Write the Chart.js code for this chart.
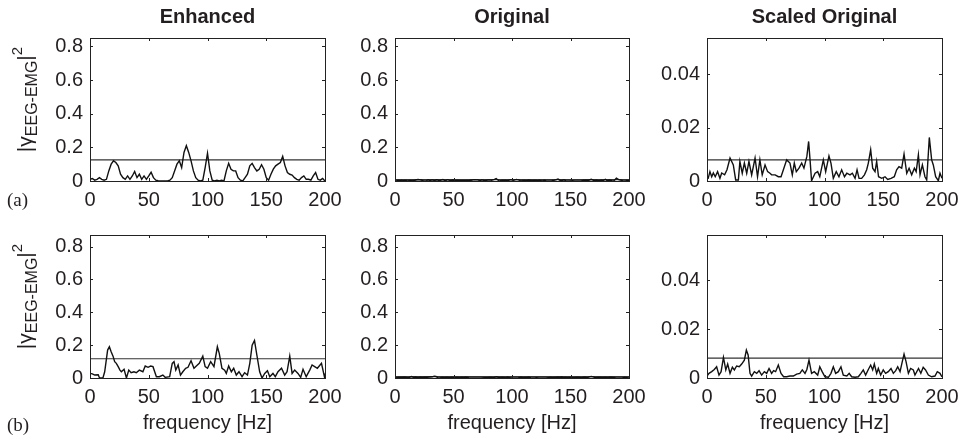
<!DOCTYPE html>
<html>
<head>
<meta charset="utf-8">
<title>EEG-EMG coherence</title>
<script src="https://cdn.jsdelivr.net/npm/chart.js@4.4.0/dist/chart.umd.min.js"></script>
<style>
  html, body { margin: 0; padding: 0; background: #fff; }
  #wrap { position: relative; width: 960px; height: 437px; overflow: hidden; }
  #wrap canvas { position: absolute; }
  .tag { position: absolute; font: 19px 'Liberation Serif', 'Times New Roman', serif; color: #231f20; line-height: 20px; }
</style>
</head>
<body>
<div id="wrap">
  <canvas id="chartA1" width="350" height="215" style="left:0;top:0"></canvas>
  <canvas id="chartA2" width="320" height="215" style="left:330px;top:0"></canvas>
  <canvas id="chartA3" width="315" height="215" style="left:645px;top:0"></canvas>
  <canvas id="chartB1" width="350" height="222" style="left:0;top:215px"></canvas>
  <canvas id="chartB2" width="320" height="222" style="left:330px;top:215px"></canvas>
  <canvas id="chartB3" width="315" height="222" style="left:645px;top:215px"></canvas>
  <div class="tag" style="left:7px;top:190px">(a)</div>
  <div class="tag" style="left:7px;top:415px">(b)</div>
</div>
<script>
// (a) enhanced coherence, read on a 2 Hz grid
var enhancedAHz = [0, 2, 4, 6, 8, 10, 12, 14, 16, 18, 20, 22, 24, 26, 28, 30, 32, 34, 36, 38, 40,
  42, 44, 46, 48, 50, 52, 54, 56, 58, 60, 62, 64, 66, 68, 70, 72, 74, 76, 78, 80,
  82, 84, 86, 88, 90, 92, 94, 96, 98, 100, 102, 104, 106, 108, 110, 112, 114, 116, 118, 120,
  122, 124, 126, 128, 130, 132, 134, 136, 138, 140, 142, 144, 146, 148, 150, 152, 154, 156, 158, 160,
  162, 164, 166, 168, 170, 172, 174, 176, 178, 180, 182, 184, 186, 188, 190, 192, 194, 196, 198, 200];
var enhancedA = [0.01, 0.015, 0.005, 0.01, 0.02, 0.01, 0.005, 0.01, 0.06, 0.10, 0.12,
  0.11, 0.09, 0.04, 0.02, 0.01, 0.03, 0.01, 0.03, 0.057, 0.02,
  0.04, 0.01, 0.03, 0.01, 0.03, 0.052, 0.02, 0.005, 0.002, 0,
  0, 0, 0, 0.005, 0.02, 0.06, 0.10, 0.12, 0.08, 0.17,
  0.21, 0.17, 0.12, 0.06, 0.02, 0.005, 0, 0.005, 0.08, 0.165,
  0.06, 0.005, 0, 0.005, 0, 0.005, 0, 0.06, 0.105, 0.07,
  0.06, 0.06, 0.02, 0.005, 0, 0.02, 0.04, 0.09, 0.105, 0.08,
  0.06, 0.07, 0.097, 0.07, 0.02, 0.005, 0.04, 0.07, 0.09, 0.10,
  0.11, 0.147, 0.09, 0.05, 0.04, 0.035, 0.02, 0.01, 0.005, 0.02,
  0.03, 0.01, 0.01, 0.005, 0.03, 0.05, 0.01, 0.005, 0.015, 0];

// (a) original coherence (same data in "Original" and "Scaled Original")
var originalAHz = [0, 1, 2.5, 4, 5.4, 7, 9, 11, 12.5, 15, 17, 19.6, 22.4, 24.4, 26.7, 28, 30, 31.8, 33.8, 35.7,
  38, 40.9, 43, 45, 47, 49.4, 51.6, 53.6, 55, 58, 60.7, 63, 65, 67.8, 70.6, 72.6, 74.3, 76, 78.3, 80.6,
  82.5, 85, 86.5, 87.7, 89, 92, 94.2, 96, 99, 101, 103.8, 105.5, 107.5, 110, 112.3, 114.6, 117, 119, 121.7, 123.7,
  126, 127.7, 129.4, 131.6, 134, 135.9, 137.3, 139.3, 141, 143, 144.4, 146, 148.7, 151.5, 153.8, 156.6, 159.4, 161.4, 163.4, 165.7,
  167.7, 170, 172, 174.2, 176.5, 178, 179.9, 181.3, 183.3, 185.5, 187, 189.2, 191.2, 192.6, 194.6, 196.9, 198.3, 200];
var originalA = [0.001, 0.001, 0.0035, 0.0016, 0.003, 0.0016, 0.0035, 0.001, 0.003, 0.0023, 0.0042, 0.0086, 0.006, 0.0004, 0.0004, 0.0073, 0.0029, 0.0067, 0.0029, 0.0073,
  0.0023, 0.0086, 0.0016, 0.0079, 0.0023, 0.006, 0.0035, 0.0029, 0.0023, 0.0023, 0.0016, 0.0016, 0.0042, 0.0079, 0.0067, 0.0023, 0.0067, 0.0035, 0.0048, 0.0067,
  0.0048, 0.0092, 0.0148, 0.0079, 0.0001, 0.0029, 0.0035, 0.0016, 0.0079, 0.0035, 0.0094, 0.0067, 0.001, 0.0035, 0.0016, 0.0042, 0.0016, 0.0029, 0.0023, 0.0029,
  0.001, 0.0042, 0.001, 0.001, 0.0023, 0.0042, 0.0067, 0.0117, 0.0048, 0.0035, 0.0073, 0.0016, 0.001, 0.0016, 0.0006, 0.001, 0.0016, 0.0042, 0.0054, 0.0048,
  0.0101, 0.0029, 0.0048, 0.0023, 0.0048, 0.0035, 0.0098, 0.0023, 0.006, 0.0016, 0.0004, 0.0163, 0.0079, 0.006, 0.0016, 0.0001, 0.0029, 0.001];

// (b) enhanced coherence
var enhancedBHz = [0, 2, 4, 7, 8, 11, 12.5, 15, 16.5, 18, 19.6, 21, 22.4, 24, 25.5, 26.7, 29, 31, 33, 35,
  37.4, 39.4, 42, 45, 47, 49.4, 51.6, 53.6, 56.5, 59, 62, 64, 67.8, 70, 71.5, 73, 75, 77, 79, 81.4,
  83.4, 86, 88.5, 90.5, 93, 96, 98, 100, 102.7, 105.5, 108.4, 110, 112.3, 114.6, 116, 118, 120.3, 122.3, 124.5, 126.8,
  129.4, 131.6, 134, 136, 138, 140, 142, 144.4, 146.4, 148.7, 151, 153, 155.7, 157.7, 160, 163, 165.7, 167.7, 170, 172,
  174.2, 177, 179.3, 181.3, 184, 187, 189, 191.2, 193.5, 197, 199.5, 200];
var enhancedB = [0.028, 0.025, 0.018, 0.02, 0.002, 0, 0.038, 0.17, 0.19, 0.16, 0.133, 0.099, 0.089, 0.069, 0.048, 0.038, 0.053, 0, 0.048, 0.032,
  0.038, 0.032, 0.048, 0.038, 0.073, 0.065, 0.073, 0.069, 0.008, 0.008, 0.018, 0.004, 0.008, 0.089, 0.099, 0.048, 0.079, 0.018, 0.038, 0.059,
  0.065, 0.105, 0.059, 0.073, 0.089, 0.133, 0.069, 0.059, 0.099, 0.069, 0.19, 0.15, 0.059, 0.048, 0.028, 0.073, 0.038, 0.059, 0.018, 0.038,
  0.008, 0.032, 0.018, 0.089, 0.2, 0.228, 0.14, 0.038, 0, 0.028, 0.044, 0.008, 0.028, 0.008, 0.038, 0.059, 0.018, 0.038, 0.133, 0.028,
  0.048, 0.028, 0.004, 0.053, 0.008, 0.048, 0.079, 0.069, 0.059, 0.089, 0.008, 0.028];

// (b) original coherence
var originalBHz = [0, 1.7, 4, 6.2, 8.2, 10.2, 12, 14, 16, 17.6, 19.6, 21.6, 23.3, 25.2, 27.5, 29.5, 31.8, 33.5, 35, 36.6,
  38, 40.3, 42.3, 44.3, 46.5, 48.8, 50.8, 52.8, 55, 56.7, 58.4, 60.7, 63, 65.2, 67.8, 70.6, 73.5, 76.3, 79, 81.1,
  83.4, 85, 86.8, 89, 91.3, 94.2, 96, 98, 100.4, 103.3, 105.5, 107.5, 109.5, 111.8, 114, 116, 119, 121, 123.1, 126,
  128.8, 131, 133, 135, 137.3, 139.3, 141, 142.4, 144.4, 145.8, 147.8, 150, 152, 154.3, 156.6, 158.6, 160.6, 162.3, 164.3, 166.2,
  167.7, 169.4, 171.4, 173.3, 175.6, 177, 180, 182, 184, 186, 188.4, 191.2, 194, 196, 198.3, 200];
var originalB = [0.0008, 0.0019, 0.0026, 0.0035, 0.0046, 0.0012, 0.0026, 0.0084, 0.0033, 0.0057, 0.0019, 0.0044, 0.0033, 0.0049, 0.0046, 0.0057, 0.0073, 0.0114, 0.0094, 0.0019,
  0.0008, 0.0026, 0.0019, 0.003, 0.0012, 0.0026, 0.0019, 0.0039, 0.0019, 0.003, 0.0026, 0.0053, 0.0019, 0.0005, 0.0005, 0.0008, 0.0008, 0.0016, 0.0019, 0.0033,
  0.0019, 0.0035, 0.0073, 0.0019, 0.0026, 0.0012, 0.0046, 0.0026, 0.0005, 0.0003, 0.0019, 0.0046, 0.0019, 0.0026, 0.0046, 0.0012, 0.0008, 0.0019, 0.0005, 0.0003,
  0.0005, 0.0019, 0.0033, 0.0012, 0.0035, 0.0053, 0.0033, 0.0057, 0.0019, 0.0039, 0.0012, 0.0033, 0.0019, 0.0026, 0.0039, 0.0019, 0.003, 0.0046, 0.0026, 0.0067,
  0.0098, 0.0067, 0.0019, 0.0039, 0.0033, 0.0012, 0.0039, 0.0019, 0.0044, 0.0033, 0.0012, 0.0005, 0.0008, 0.0026, 0.0019, 0.0005];

// significance levels
var enhancedALimit = 0.125;
var enhancedBLimit = 0.117;
var originalALimit = 0.0079;
var originalBLimit = 0.0081;

var columnTitles = ['Enhanced', 'Original', 'Scaled Original'];
var xTicks = [0, 50, 100, 150, 200];

var textColor = '#231f20';
var lineColor = '#111';
var sans = "'Liberation Sans', Arial, Helvetica, sans-serif";

function toPoints(hz, values) {
  return hz.map(function (f, i) { return { x: f, y: values[i] }; });
}

function limitLine(level) {
  return [{ x: xTicks[0], y: level }, { x: xTicks[xTicks.length - 1], y: level }];
}

// MATLAB style box with inward ticks on all four sides, plus the column title
var boxPlugin = {
  id: 'matlabBox',
  afterDatasetsDraw: function (chart, args, opts) {
    var ctx = chart.ctx;
    var a = chart.chartArea;
    var xs = chart.scales.x;
    var ys = chart.scales.y;
    var len = 3;
    ctx.save();
    ctx.strokeStyle = '#222';
    ctx.lineWidth = 1;
    ctx.strokeRect(Math.round(a.left) + 0.5, Math.round(a.top) + 0.5,
      Math.round(a.right - a.left), Math.round(a.bottom - a.top));
    ctx.beginPath();
    xs.ticks.forEach(function (t) {
      var px = Math.round(xs.getPixelForValue(t.value)) + 0.5;
      ctx.moveTo(px, a.bottom); ctx.lineTo(px, a.bottom - len);
      ctx.moveTo(px, a.top); ctx.lineTo(px, a.top + len);
    });
    ys.ticks.forEach(function (t) {
      var py = Math.round(ys.getPixelForValue(t.value)) + 0.5;
      ctx.moveTo(a.left, py); ctx.lineTo(a.left + len, py);
      ctx.moveTo(a.right, py); ctx.lineTo(a.right - len, py);
    });
    ctx.stroke();
    if (opts.title) {
      ctx.fillStyle = textColor;
      ctx.font = 'bold 20px ' + sans;
      ctx.textAlign = 'center';
      ctx.textBaseline = 'middle';
      ctx.fillText(opts.title, (a.left + a.right) / 2, a.top - 21);
    }
    ctx.restore();
  }
};

// rotated |gamma_EEG-EMG|^2 label
var yLabelPlugin = {
  id: 'coherenceLabel',
  afterDraw: function (chart, args, opts) {
    if (!opts.display) return;
    var ctx = chart.ctx;
    var a = chart.chartArea;
    var parts = [
      { t: '|\u03b3', size: 21, dy: 0 },
      { t: 'EEG-EMG', size: 16, dy: 5 },
      { t: '|', size: 21, dy: 0 },
      { t: '2', size: 15, dy: -10 }
    ];
    var total = 0;
    ctx.save();
    parts.forEach(function (p) {
      ctx.font = p.size + 'px ' + sans;
      p.w = ctx.measureText(p.t).width;
      total += p.w;
    });
    ctx.translate(opts.x, (a.top + a.bottom) / 2 + opts.shift);
    ctx.rotate(-Math.PI / 2);
    ctx.fillStyle = textColor;
    ctx.textBaseline = 'alphabetic';
    var cx = -total / 2;
    parts.forEach(function (p) {
      ctx.font = p.size + 'px ' + sans;
      ctx.fillText(p.t, cx, p.dy);
      cx += p.w;
    });
    ctx.restore();
  }
};

function makePanel(id, cfg) {
  var ctx = document.getElementById(id);
  return new Chart(ctx, {
    type: 'line',
    data: {
      datasets: [{
        data: toPoints(cfg.hz, cfg.values),
        borderColor: lineColor,
        borderWidth: 1.4,
        pointRadius: 0,
        tension: 0
      }, {
        data: limitLine(cfg.limit),
        borderColor: '#333',
        borderWidth: 1.2,
        pointRadius: 0
      }]
    },
    options: {
      responsive: false,
      animation: false,
      devicePixelRatio: 1,
      layout: { padding: { left: 0, right: cfg.padRight, top: cfg.padTop, bottom: 0 } },
      plugins: {
        legend: { display: false },
        tooltip: { enabled: false },
        title: { display: false },
        matlabBox: { title: cfg.title || '' },
        coherenceLabel: { display: !!cfg.yLabel, x: 32, shift: -10 }
      },
      scales: {
        x: {
          type: 'linear',
          min: 0,
          max: 200,
          afterBuildTicks: function (scale) {
            scale.ticks = xTicks.map(function (v) { return { value: v }; });
          },
          grid: { display: false, drawTicks: false },
          border: { display: false },
          ticks: { color: textColor, font: { family: sans, size: 20 }, padding: 7, maxRotation: 0 },
          title: {
            display: !!cfg.xTitle,
            text: 'frequency [Hz]',
            color: textColor,
            font: { family: sans, size: 20 },
            padding: { top: 0, bottom: 2 }
          },
          afterFit: function (scale) {
            scale.height = cfg.xHeight;
            scale.paddingLeft = 0;
            scale.paddingRight = 0;
          }
        },
        y: {
          min: 0,
          max: cfg.yMax,
          grid: { display: false, drawTicks: false },
          border: { display: false },
          ticks: {
            stepSize: cfg.yStep,
            includeBounds: false,
            color: textColor,
            font: { family: sans, size: 20 },
            padding: 7
          },
          afterFit: function (scale) {
            scale.width = cfg.yWidth;
            scale.paddingTop = 0;
            scale.paddingBottom = 0;
          }
        }
      }
    },
    plugins: [boxPlugin, yLabelPlugin]
  });
}

var rowA = { padTop: 38, xHeight: 34 };
var rowB = { padTop: 20, xHeight: 59, xTitle: true };

function panel(row, extra) {
  var cfg = {};
  Object.keys(row).forEach(function (k) { cfg[k] = row[k]; });
  Object.keys(extra).forEach(function (k) { cfg[k] = extra[k]; });
  return cfg;
}

makePanel('chartA1', panel(rowA, { title: columnTitles[0], hz: enhancedAHz, values: enhancedA, limit: enhancedALimit,
  yMax: 0.85, yStep: 0.2, yWidth: 90, padRight: 25, yLabel: true }));
makePanel('chartA2', panel(rowA, { title: columnTitles[1], hz: originalAHz, values: originalA, limit: originalALimit,
  yMax: 0.85, yStep: 0.2, yWidth: 65, padRight: 21 }));
makePanel('chartA3', panel(rowA, { title: columnTitles[2], hz: originalAHz, values: originalA, limit: originalALimit,
  yMax: 0.0535, yStep: 0.02, yWidth: 62, padRight: 18 }));
makePanel('chartB1', panel(rowB, { hz: enhancedBHz, values: enhancedB, limit: enhancedBLimit,
  yMax: 0.87, yStep: 0.2, yWidth: 90, padRight: 25, yLabel: true }));
makePanel('chartB2', panel(rowB, { hz: originalBHz, values: originalB, limit: originalBLimit,
  yMax: 0.87, yStep: 0.2, yWidth: 65, padRight: 21 }));
makePanel('chartB3', panel(rowB, { hz: originalBHz, values: originalB, limit: originalBLimit,
  yMax: 0.0585, yStep: 0.02, yWidth: 62, padRight: 18 }));
</script>
</body>
</html>
